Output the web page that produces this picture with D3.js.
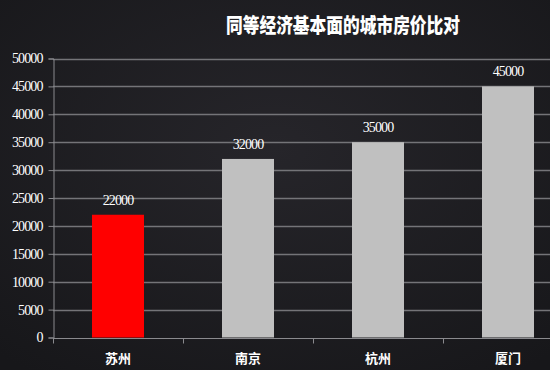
<!DOCTYPE html>
<html>
<head>
<meta charset="utf-8">
<script src="https://cdn.jsdelivr.net/npm/d3@7"></script>
<style>
  html, body { margin: 0; padding: 0; background: #fff; }
  svg { display: block; }
</style>
</head>
<body>
<div id="chart"></div>
<script>
// city house price comparison

var title = "同等经济基本面的城市房价比对";
var cities = ["苏州", "南京", "杭州", "厦门"];
var prices = [22000, 32000, 35000, 45000];
var barColors = ["#ff0000", "#c0c0c0", "#c0c0c0", "#c0c0c0"];
var yTicks = [0, 5000, 10000, 15000, 20000, 25000, 30000, 35000, 40000, 45000, 50000];

var W = 550, H = 372;
var margin = { left: 53, top: 58.5, bottom: 34.5 };
var plotRight = 573; // plot runs past the right edge in the original

var svg = d3.select("#chart")
    .append("svg")
        .attr("width", W)
        .attr("height", H);

// background with soft vignette
var defs = svg.append("defs");
var grad = defs.append("radialGradient")
    .attr("id", "bg")
    .attr("cx", "50%").attr("cy", "40%").attr("r", "75%");
grad.append("stop").attr("offset", "0%").attr("stop-color", "#26252a");
grad.append("stop").attr("offset", "100%").attr("stop-color", "#17171a");

svg.append("rect")
    .attr("width", W).attr("height", H - 2)
    .attr("fill", "url(#bg)");

var x = d3.scaleBand()
    .domain(cities)
    .range([margin.left, plotRight])
    .paddingInner(0.6)
    .paddingOuter(0.3);

var y = d3.scaleLinear()
    .domain([0, 50000])
    .range([H - margin.bottom, margin.top]);

// gridlines
svg.append("g")
    .selectAll("line")
    .data(yTicks.slice(1))
    .join("line")
        .attr("x1", margin.left)
        .attr("x2", plotRight)
        .attr("y1", function (d) { return Math.round(y(d)) + 0.5; })
        .attr("y2", function (d) { return Math.round(y(d)) + 0.5; })
        .attr("stroke", "#747478")
        .attr("stroke-width", 1.5);

// y axis
var yAxis = svg.append("g")
    .attr("transform", "translate(" + (margin.left + 0.5) + ",0)")
    .call(d3.axisLeft(y).tickValues(yTicks).tickSize(5).tickPadding(6).tickFormat(d3.format("d")));
yAxis.select(".domain").attr("stroke", "#8a8a8e");
yAxis.selectAll(".tick line").attr("stroke", "#8a8a8e");
yAxis.selectAll(".tick text")
    .attr("fill", "#ffffff")
    .attr("font-family", "'Liberation Serif', 'DejaVu Serif', serif")
    .attr("font-size", 14)
    .attr("letter-spacing", -0.9);

// x axis
var bandStep = x.step();
var xAxis = svg.append("g")
    .attr("transform", "translate(0," + (Math.round(y(0)) + 0.5) + ")");
xAxis.append("line")
    .attr("x1", margin.left).attr("x2", plotRight)
    .attr("stroke", "#8a8a8e");
xAxis.selectAll(".xtick")
    .data(cities)
    .join("line")
        .attr("class", "xtick")
        .attr("x1", function (d) { return Math.round(x(d) + x.bandwidth() / 2 - bandStep / 2) + 0.5; })
        .attr("x2", function (d) { return Math.round(x(d) + x.bandwidth() / 2 - bandStep / 2) + 0.5; })
        .attr("y1", 0).attr("y2", 5)
        .attr("stroke", "#8a8a8e");
xAxis.selectAll(".xlabel")
    .data(cities)
    .join("text")
        .attr("class", "xlabel")
        .attr("x", function (d) { return x(d) + x.bandwidth() / 2; })
        .attr("y", 24)
        .attr("text-anchor", "middle")
        .attr("fill", "#ffffff")
        .attr("font-family", "'Noto Sans CJK SC', sans-serif")
        .attr("font-weight", "bold")
        .attr("font-size", 13)
        .text(function (d) { return d; });

// bars
svg.append("g")
    .selectAll("rect")
    .data(cities)
    .join("rect")
        .attr("x", function (d) { return x(d); })
        .attr("y", function (d, i) { return y(prices[i]); })
        .attr("width", x.bandwidth())
        .attr("height", function (d, i) { return y(0) - y(prices[i]); })
        .attr("fill", function (d, i) { return barColors[i]; });

// value labels
svg.append("g")
    .selectAll("text")
    .data(cities)
    .join("text")
        .attr("x", function (d) { return x(d) + x.bandwidth() / 2; })
        .attr("y", function (d, i) { return y(prices[i]) - 10; })
        .attr("text-anchor", "middle")
        .attr("fill", "#ffffff")
        .attr("font-family", "'Liberation Serif', 'DejaVu Serif', serif")
        .attr("font-size", 14)
        .attr("letter-spacing", -0.9)
        .text(function (d, i) { return prices[i]; });

// title
svg.append("text")
    .attr("x", 226)
    .attr("y", 33)
    .attr("fill", "#ffffff")
    .attr("font-family", "'Noto Sans CJK SC', sans-serif")
    .attr("font-weight", "900")
    .attr("font-size", 20)
    .attr("textLength", 234)
    .attr("lengthAdjust", "spacingAndGlyphs")
    .text(title);
</script>
</body>
</html>
